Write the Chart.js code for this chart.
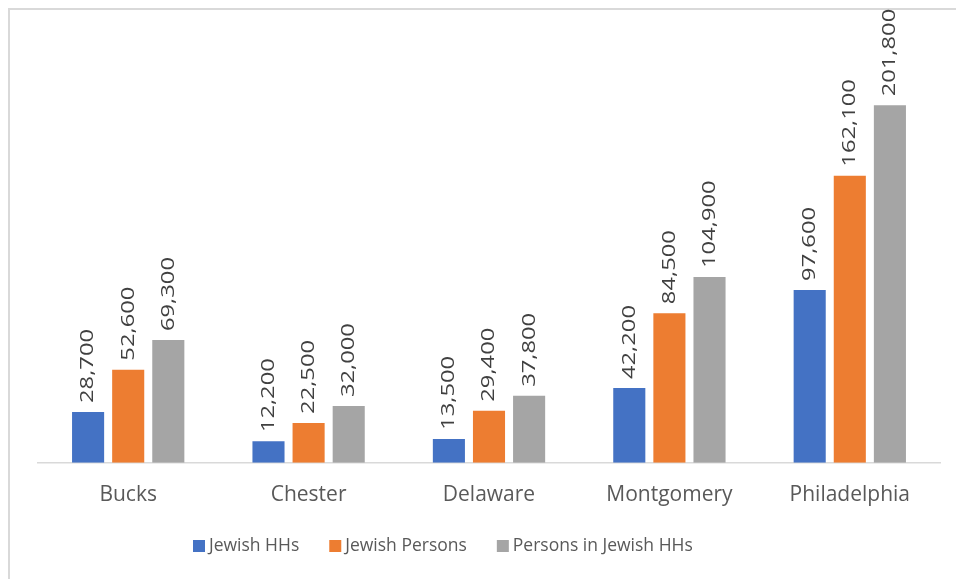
<!DOCTYPE html>
<html>
<head>
<meta charset="utf-8">
<script src="https://cdn.jsdelivr.net/npm/chart.js@4"></script>
<style>
  html, body { margin: 0; padding: 0; background: #fff; }
  #wrap { position: relative; width: 956px; height: 579px; }
  #frame { position: absolute; left: 8px; top: 8px; right: -10px; bottom: -10px;
           border-top: 2px solid #d9d9d9; border-left: 2px solid #d9d9d9; }
  canvas { position: absolute; left: 0; top: 0; }
</style>
</head>
<body>
<div id="wrap">
  <div id="frame"></div>
  <canvas id="grafik" width="956" height="579"></canvas>
</div>
<script>
// Data per county
const counties = ["Bucks", "Chester", "Delaware", "Montgomery", "Philadelphia"];
const jewishHHs = [28700, 12200, 13500, 42200, 97600];
const jewishPersons = [52600, 22500, 29400, 84500, 162100];
const personsInHHs = [69300, 32000, 37800, 104900, 201800];

const fontName = "'Open Sans', 'Noto Sans', sans-serif";

// Label angka diputar di atas tiap batang (teks agak memanjang seperti aslinya)
const labelBatang = {
  id: "labelBatang",
  afterDatasetsDraw(chart) {
    const ctx = chart.ctx;
    ctx.save();
    ctx.fillStyle = "#404040";
    ctx.font = "19px " + fontName;
    ctx.textAlign = "left";
    ctx.textBaseline = "middle";
    chart.data.datasets.forEach((ds, i) => {
      chart.getDatasetMeta(i).data.forEach((bar, j) => {
        const teks = ds.data[j].toLocaleString("en-US");
        ctx.save();
        ctx.translate(bar.x, bar.y - 9);
        ctx.rotate(-Math.PI / 2);
        ctx.scale(1.25, 1);
        ctx.fillText(teks, 0, 0);
        ctx.restore();
      });
    });
    ctx.restore();
  }
};

// Legend sendiri di bawah, posisi seperti gambar asli
const legendBawah = {
  id: "legendBawah",
  afterDraw(chart) {
    const ctx = chart.ctx;
    ctx.save();
    ctx.font = "17.5px " + fontName;
    ctx.textBaseline = "middle";
    ctx.textAlign = "left";
    let x = 193;
    const y = 546;
    chart.data.datasets.forEach(ds => {
      ctx.fillStyle = ds.backgroundColor;
      ctx.fillRect(x, y - 6, 12, 12);
      ctx.fillStyle = "#595959";
      ctx.fillText(ds.label, x + 16, y);
      x += 16 + ctx.measureText(ds.label).width + 30;
    });
    ctx.restore();
  }
};

new Chart(document.getElementById("grafik"), {
  type: "bar",
  data: {
    labels: counties,
    datasets: [
      { label: "Jewish HHs", data: jewishHHs, backgroundColor: "#4472C4" },
      { label: "Jewish Persons", data: jewishPersons, backgroundColor: "#ED7D31" },
      { label: "Persons in Jewish HHs", data: personsInHHs, backgroundColor: "#A5A5A5" }
    ]
  },
  options: {
    responsive: false,
    animation: false,
    layout: { padding: { left: 38, right: 16, top: 20, bottom: 59 } },
    datasets: { bar: { categoryPercentage: 0.667, barPercentage: 0.8 } },
    scales: {
      x: {
        grid: { display: false },
        border: { color: "#d9d9d9", width: 1.5 },
        ticks: { color: "#595959", font: { family: fontName, size: 21 }, padding: 12 }
      },
      y: { display: false, min: 0, max: 250000 }
    },
    plugins: {
      legend: { display: false },
      tooltip: { enabled: false }
    }
  },
  plugins: [labelBatang, legendBawah]
});
</script>
</body>
</html>
